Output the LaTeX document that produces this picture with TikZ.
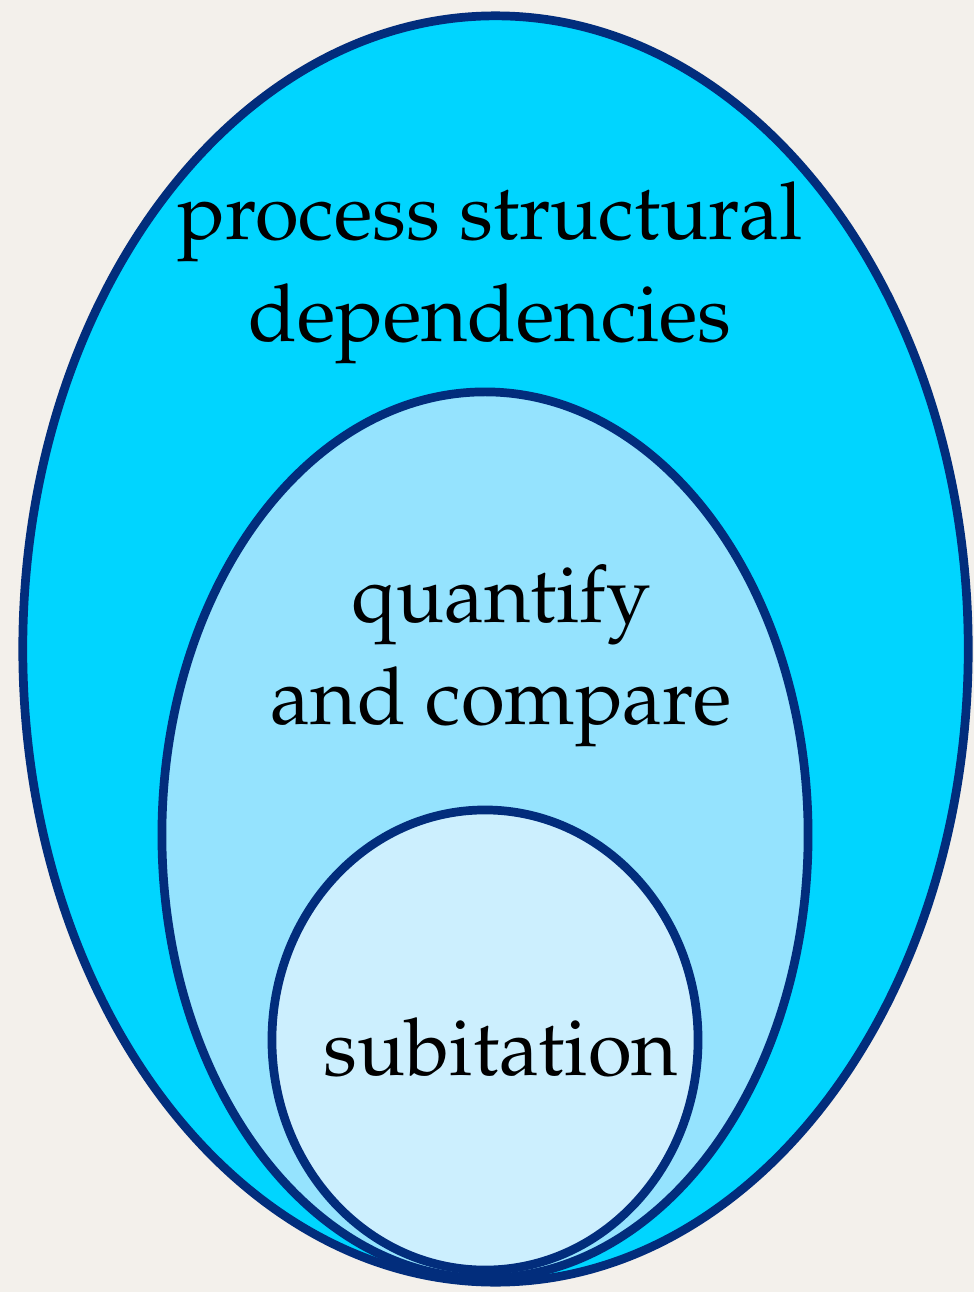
\documentclass[tikz,border=0pt]{standalone}
\IfFileExists{mathpazo.sty}{%
  \usepackage[T1]{fontenc}
  \usepackage{mathpazo}
  \newcommand{\lblsize}{\fontsize{56.7}{73}\selectfont}
}{%
  \usepackage{fontspec}
  \setmainfont{Liberation Serif}
  \newcommand{\lblsize}{\fontsize{61}{73}\selectfont}
}
\usepackage{tikz}
\usetikzlibrary{shapes.geometric,backgrounds}
\definecolor{cPaper}{HTML}{F3F0EB}
\definecolor{cEdge}{HTML}{022D7C}
\definecolor{cOuter}{HTML}{00D5FF}
\definecolor{cMiddle}{HTML}{95E3FE}
\definecolor{cInner}{HTML}{CCEFFE}
\tikzset{
  blob/.style={ellipse, draw=cEdge, line width=6.2pt, inner sep=0},
  lbl/.style={align=center, font=\lblsize, inner sep=0},
}

\begin{document}
\begin{tikzpicture}[x=0.025cm, y=-0.025cm]
    % page
    \fill[cPaper] (0,0) rectangle (974,1292);
    \useasboundingbox (0,0) rectangle (974,1292);
    % nested sets
    \node[blob, fill=cOuter, minimum width=23.63cm, minimum height=31.65cm] (outer) at (495.5,649) {};
    \node[blob, fill=cMiddle, minimum width=16.15cm, minimum height=22.15cm] (middle) at (485,835) {};
    \node[blob, fill=cInner, minimum width=10.65cm, minimum height=11.5cm] (inner) at (485,1040) {};
    % labels
    \node[lbl] (tstruct) at (490,273) {process structural\\dependencies};
    \node[lbl] (tquant) at (501,656) {quantify\\and compare};
    \node[lbl, anchor=base] (tsubit) at (501,1075) {subitation};
\end{tikzpicture}
\end{document}
